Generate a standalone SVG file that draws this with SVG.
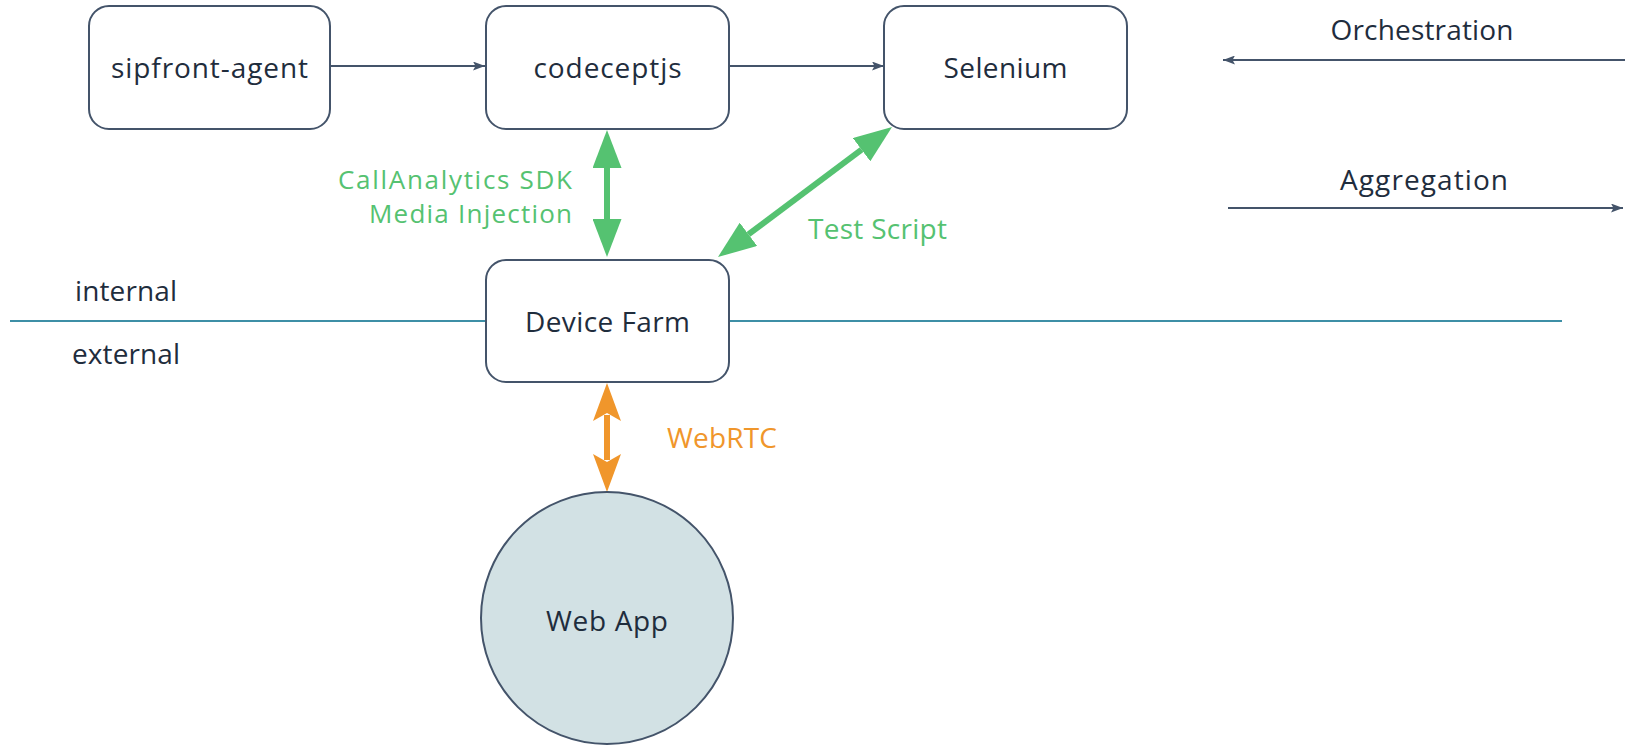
<svg xmlns="http://www.w3.org/2000/svg" width="1628" height="745" viewBox="0 0 1628 745">
<style>
.box{fill:#ffffff;stroke:#44546a;stroke-width:2}
.lbl{font-family:"Open Sans","Noto Sans",sans-serif;font-size:28px;fill:#1f2d3d;text-anchor:middle;dominant-baseline:central}
.side{font-family:"Open Sans","Noto Sans",sans-serif;font-size:28px;fill:#1f2d3d;dominant-baseline:central}
.glbl{font-family:"Open Sans","Noto Sans",sans-serif;font-size:28px;fill:#55c271;dominant-baseline:central}
.glbl2{font-family:"Open Sans","Noto Sans",sans-serif;font-size:26px;fill:#55c271;dominant-baseline:central}
.olbl{font-family:"Open Sans","Noto Sans",sans-serif;font-size:28px;fill:#f0962b;dominant-baseline:central}
.thin{stroke:#44546a;stroke-width:2;fill:none}
.green{stroke:#55c271;stroke-width:6;fill:none}
.orange{stroke:#f0962b;stroke-width:6;fill:none}
</style>
<defs>
<marker id="dark" markerUnits="userSpaceOnUse" viewBox="0 0 12 9" refX="12" refY="4.5" markerWidth="12" markerHeight="9" orient="auto-start-reverse">
<path d="M0,0 L12,4.5 L0,9 L2.5,4.5 z" fill="#44546a"/>
</marker>
<marker id="garrow" markerUnits="userSpaceOnUse" viewBox="0 0 38 29" refX="0" refY="14.5" markerWidth="38" markerHeight="29" orient="auto-start-reverse">
<path d="M0,0 L38,14.5 L0,29 z" fill="#55c271"/>
</marker>
<marker id="oarrow" markerUnits="userSpaceOnUse" viewBox="0 0 38 28" refX="6" refY="14" markerWidth="38" markerHeight="28" orient="auto-start-reverse">
<path d="M0,0 L38,14 L0,28 L8,14 z" fill="#f0962b"/>
</marker>
</defs>
<line x1="10" y1="321" x2="1562" y2="321" stroke="#3d8fa6" stroke-width="2"/>
<g id="connectors">
<line class="thin" x1="331" y1="66" x2="485" y2="66" marker-end="url(#dark)"/>
<line class="thin" x1="729" y1="66" x2="884" y2="66" marker-end="url(#dark)"/>
<line class="thin" x1="1625" y1="60" x2="1223" y2="60" marker-end="url(#dark)"/>
<line class="thin" x1="1228" y1="208" x2="1623" y2="208" marker-end="url(#dark)"/>
<line class="green" x1="607" y1="168" x2="607" y2="219" marker-start="url(#garrow)" marker-end="url(#garrow)"/>
<line class="green" x1="861.6" y1="149.7" x2="748.4" y2="234.3" marker-start="url(#garrow)" marker-end="url(#garrow)"/>
<line class="orange" x1="607" y1="415" x2="607" y2="460" marker-start="url(#oarrow)" marker-end="url(#oarrow)"/>
</g>
<g id="sipfront-agent">
<rect class="box" x="89" y="6" width="241" height="123" rx="20"/>
<text class="lbl" x="209.5" y="67" textLength="197">sipfront-agent</text>
</g>
<g id="codeceptjs">
<rect class="box" x="486" y="6" width="243" height="123" rx="20"/>
<text class="lbl" x="607.5" y="67" textLength="148">codeceptjs</text>
</g>
<g id="selenium">
<rect class="box" x="884" y="6" width="243" height="123" rx="20"/>
<text class="lbl" x="1005.5" y="67" textLength="124">Selenium</text>
</g>
<g id="device-farm">
<rect class="box" x="486" y="260" width="243" height="122" rx="20"/>
<text class="lbl" x="607.5" y="321" textLength="165">Device Farm</text>
</g>
<g id="web-app">
<circle cx="607" cy="618" r="126" fill="#d2e1e4" stroke="#44546a" stroke-width="2"/>
<text class="lbl" x="607" y="620" textLength="122">Web App</text>
</g>
<g id="labels">
<text class="lbl" x="1422" y="29" textLength="183">Orchestration</text>
<text class="lbl" x="1424" y="179" textLength="168">Aggregation</text>
<text class="side" x="75" y="290" textLength="102">internal</text>
<text class="side" x="72" y="353" textLength="108">external</text>
<text class="glbl2" x="572" y="179" text-anchor="end" textLength="234">CallAnalytics SDK</text>
<text class="glbl2" x="572" y="213" text-anchor="end" textLength="203">Media Injection</text>
<text class="glbl" x="808" y="228" textLength="139">Test Script</text>
<text class="olbl" x="667" y="437" textLength="110">WebRTC</text>
</g>
</svg>
